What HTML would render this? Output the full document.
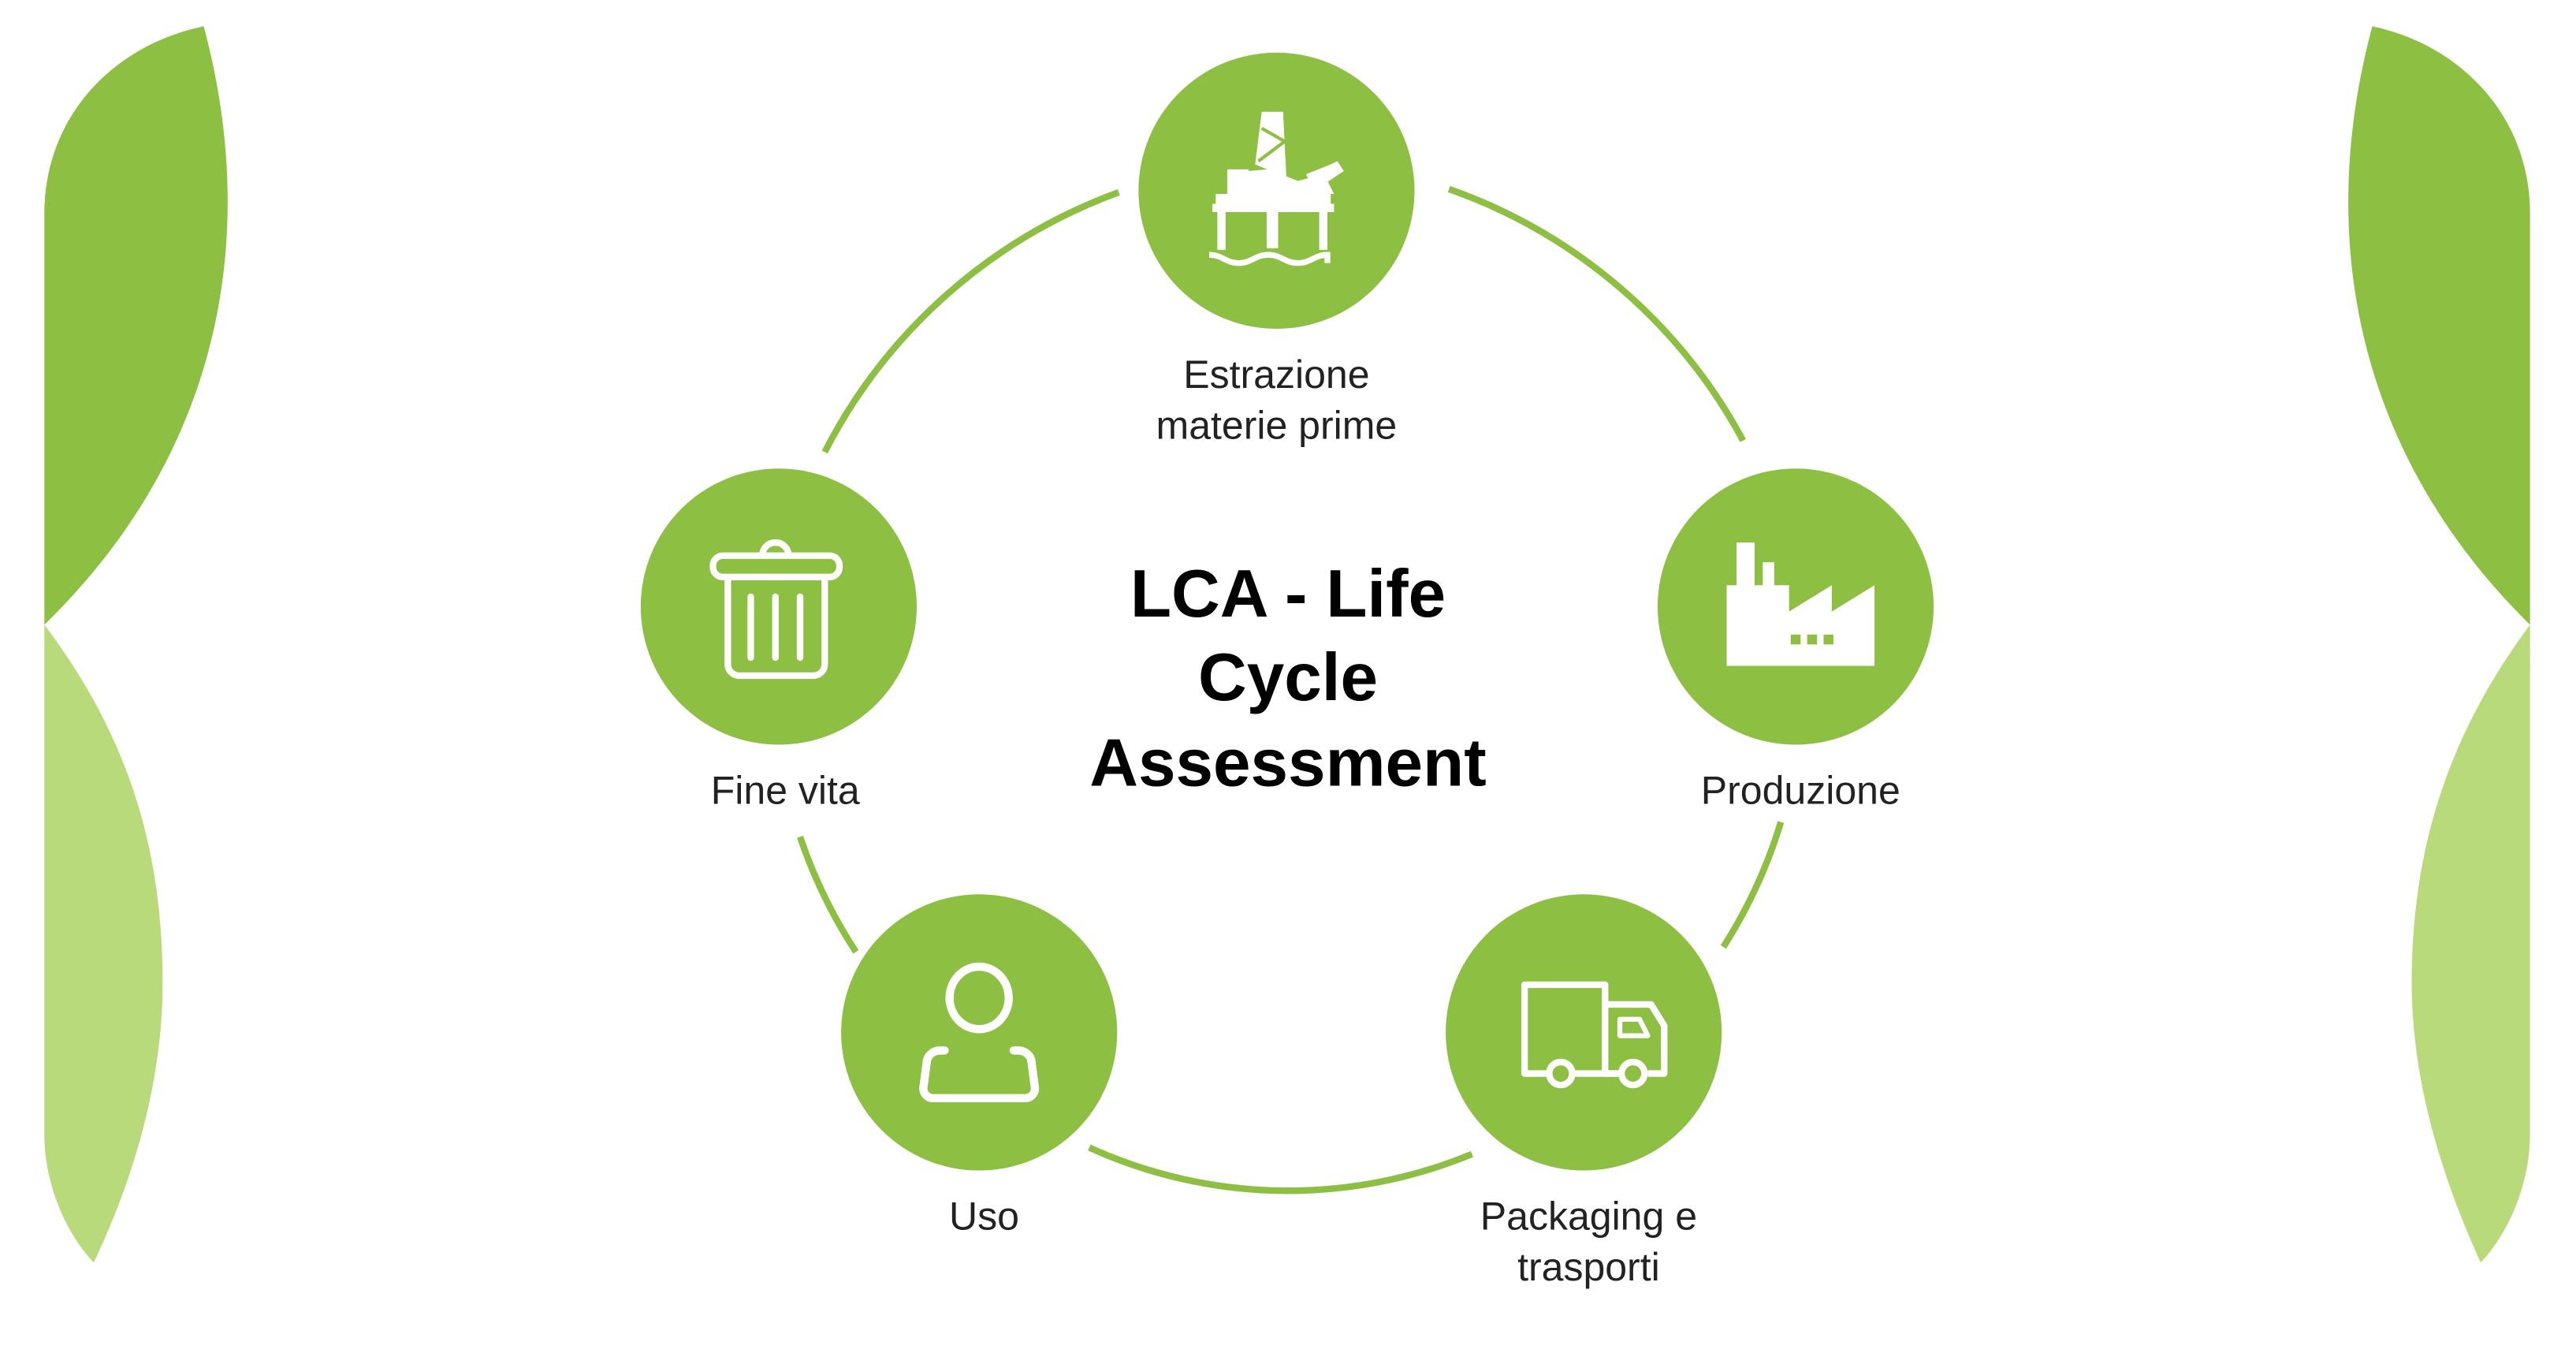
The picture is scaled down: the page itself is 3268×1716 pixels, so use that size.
<!DOCTYPE html>
<html><head><meta charset="utf-8"><style>
html,body{margin:0;padding:0;background:#fff;}
svg{display:block;}
</style></head><body>
<svg width="3268" height="1716" viewBox="0 0 1568 823" preserveAspectRatio="none" xmlns="http://www.w3.org/2000/svg">
<!-- left decorative leaves -->
<path d="M27,380 L27,130 C27,70 70,27 124,16 C160,150 130,280 27,380 Z" fill="#8dbf43"/>
<path d="M27,380 C80,450 99,520 99,598 C99,660 80,720 57,768 C40,750 27,720 27,690 Z" fill="#b8da7a"/>
<!-- right decorative leaves -->
<path d="M1540,380 L1540,130 C1540,70 1497,27 1444,16 C1408,150 1438,280 1540,380 Z" fill="#8dbf43"/>
<path d="M1540,380 C1488,450 1468,520 1468,598 C1468,660 1488,720 1510,768 C1527,750 1540,720 1540,690 Z" fill="#b8da7a"/>

<!-- connector arcs -->
<g fill="none" stroke="#8dbf43" stroke-width="4">
<path d="M502,275 A326,326 0 0 1 681,117"/>
<path d="M882,115 A326,326 0 0 1 1061,268"/>
<path d="M1084,500 A305,305 0 0 1 1049,576"/>
<path d="M487,509 A305,305 0 0 0 521,579"/>
<path d="M663,698 A292,292 0 0 0 896,702"/>
</g>

<!-- node circles -->
<g fill="#8dbf43">
<circle cx="777" cy="116" r="84"/>
<circle cx="474" cy="369" r="84"/>
<circle cx="1093" cy="369" r="84"/>
<circle cx="596" cy="628" r="84"/>
<circle cx="964" cy="628" r="84"/>
</g>

<!-- oil rig icon -->
<g fill="#fff">
<polygon points="768,68 781,68 783,108 764,100"/>
<polyline points="768,78 782,86 766,98" fill="none" stroke="#8dbf43" stroke-width="2"/>
<rect x="747" y="103" width="13" height="17"/>
<polygon points="760,104 772,103 790,110 806,106 812,118 760,118"/>
<polygon points="795,106 810,100 814,98 818,104 800,116"/>
<rect x="740" y="118" width="70" height="11"/>
<rect x="738" y="124" width="74" height="5"/>
<rect x="741" y="129" width="5" height="23"/>
<rect x="771" y="129" width="7" height="22"/>
<rect x="803" y="129" width="5" height="23"/>
<path d="M736,155 c8,0 10,5 18,5 c8,0 10,-5 18,-5 c8,0 10,5 18,5 c8,0 10,-5 18,-5 l0,5" fill="none" stroke="#fff" stroke-width="3.5"/>
</g>

<!-- trash icon -->
<g fill="none" stroke="#fff" stroke-width="4" stroke-linecap="round">
<rect x="434" y="338" width="77" height="13" rx="6"/>
<path d="M464,338 a8,8 0 0 1 16,0"/>
<path d="M443,352 L443,404 a7,7 0 0 0 7,7 L495,411 a7,7 0 0 0 7,-7 L502,352"/>
<line x1="457" y1="363" x2="457" y2="400"/>
<line x1="472" y1="363" x2="472" y2="400"/>
<line x1="487" y1="363" x2="487" y2="400"/>
</g>

<!-- factory icon -->
<g>
<polygon fill="#fff" points="1051,405 1141,405 1141,356 1115,372 1115,356 1089,372 1089,356 1080,356 1080,342 1073,342 1073,356 1068,356 1068,330 1057,330 1057,356 1051,356"/>
<rect x="1090" y="386" width="6" height="6" fill="#8dbf43"/>
<rect x="1100" y="386" width="6" height="6" fill="#8dbf43"/>
<rect x="1110" y="386" width="6" height="6" fill="#8dbf43"/>
</g>

<!-- truck icon -->
<g fill="none" stroke="#fff" stroke-width="4" stroke-linejoin="round">
<path d="M942,653 L928,653 L928,599 L977,599 L977,653 L985,653"/>
<path d="M977,611 L1005,611 L1013,624 L1013,653 L1003,653"/>
<path d="M986,620 L998,620 L1003,630 L986,630 Z" stroke-width="3"/>
<line x1="958" y1="653" x2="985" y2="653"/>
<circle cx="950" cy="653" r="7"/>
<circle cx="994" cy="653" r="7"/>
</g>

<!-- person icon -->
<g fill="none" stroke="#fff" stroke-width="5" stroke-linecap="round">
<ellipse cx="596" cy="607" rx="18" ry="19"/>
<path d="M575,639 L572,639 a8,8 0 0 0 -8,8 L562,662 a6,6 0 0 0 6,6 L624,668 a6,6 0 0 0 6,-6 L628,647 a8,8 0 0 0 -8,-8 L617,639"/>
</g>

<!-- labels -->
<g font-family="'Liberation Sans', sans-serif" font-size="24" fill="#222" text-anchor="middle">
<text x="777" y="236">Estrazione</text>
<text x="777" y="267">materie prime</text>
<text x="478" y="489">Fine vita</text>
<text x="1096" y="489">Produzione</text>
<text x="599" y="748">Uso</text>
<text x="967" y="748">Packaging e</text>
<text x="967" y="779">trasporti</text>
</g>
<g font-family="'Liberation Sans', sans-serif" font-size="41" font-weight="bold" fill="#000" text-anchor="middle">
<text x="784" y="375">LCA - Life</text>
<text x="784" y="426">Cycle</text>
<text x="784" y="478">Assessment</text>
</g>
</svg>
</body></html>
